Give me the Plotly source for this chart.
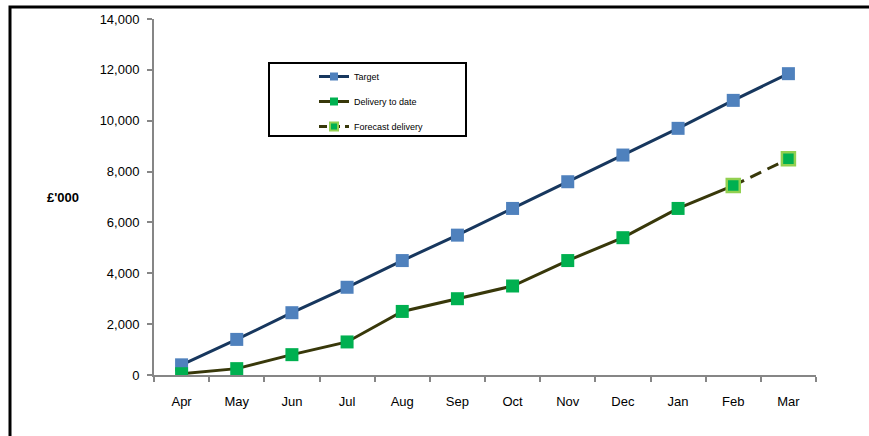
import plotly.graph_objects as go

months = ["Apr", "May", "Jun", "Jul", "Aug", "Sep", "Oct", "Nov", "Dec", "Jan", "Feb", "Mar"]
target = [400, 1400, 2450, 3450, 4500, 5500, 6550, 7600, 8650, 9700, 10800, 11850]
delivery_months = months[:11]
delivery = [50, 250, 800, 1300, 2500, 3000, 3500, 4500, 5400, 6550, 7450]
forecast_months = ["Feb", "Mar"]
forecast = [7450, 8500]
y_ticks = [0, 2000, 4000, 6000, 8000, 10000, 12000, 14000]

NAVY = "#17375E"
BLUE = "#4F81BD"
OLIVE = "#38380A"
GREEN = "#00B050"
LIME = "#92D050"
GREY = "#868686"
FONT = "Liberation Sans"

fig = go.Figure()

fig.add_trace(go.Scatter(
    x=months, y=target, mode="lines+markers", showlegend=False,
    line=dict(color=NAVY, width=3),
    marker=dict(symbol="square", size=13, color=BLUE),
))
fig.add_trace(go.Scatter(
    x=delivery_months, y=delivery, mode="lines+markers", showlegend=False,
    line=dict(color=OLIVE, width=3),
    marker=dict(symbol="square", size=13, color=GREEN),
))
fig.add_trace(go.Scatter(
    x=forecast_months, y=forecast, mode="lines+markers", showlegend=False,
    line=dict(color=OLIVE, width=3, dash="12px,7px"),
    marker=dict(symbol="square", size=13, color=GREEN, line=dict(color=LIME, width=2.5)),
))

# legend entries with smaller markers
legend_items = [
    ("Target", NAVY, "solid", BLUE, BLUE),
    ("Delivery to date", OLIVE, "solid", GREEN, GREEN),
    ("Forecast delivery", OLIVE, "8px,5px", GREEN, LIME),
]
for i, (name, lc, dash, mc, mlc) in enumerate(legend_items):
    fig.add_trace(go.Scatter(
        x=[None], y=[None], mode="lines+markers", name=name, legendgroup=str(i),
        line=dict(color=lc, width=3, dash=dash),
        marker=dict(symbol="square", size=8, color=mc, line=dict(color=mlc, width=2 if mlc != mc else 0)),
    ))

L, R, T, B = 154, 53, 19, 61
W, H = 869, 436
pw, ph = W - L - R, H - T - B

def px(x):
    return (x - L) / pw

def py(y):
    return (H - B - y) / ph

fig.update_layout(
    width=W, height=H,
    margin=dict(l=L, r=R, t=T, b=B),
    paper_bgcolor="white", plot_bgcolor="white",
    font=dict(family=FONT, size=13, color="black"),
    xaxis=dict(
        type="category", categoryorder="array", categoryarray=months,
        range=[-0.5, 11.5], tickson="boundaries",
        showline=True, linecolor=GREY, linewidth=2,
        ticks="outside", ticklen=5, tickcolor=GREY, tickwidth=2,
        showgrid=False, ticklabelstandoff=13,
    ),
    yaxis=dict(
        range=[0, 14000], tickvals=y_ticks, tickformat=",",
        showline=True, linecolor=GREY, linewidth=2,
        ticks="outside", ticklen=5, tickcolor=GREY, tickwidth=2,
        showgrid=False, zeroline=False, ticklabelstandoff=5,
    ),
    legend=dict(
        x=px(314), y=py(62), xanchor="left", yanchor="top",
        bgcolor="rgba(0,0,0,0)", borderwidth=0,
        font=dict(family=FONT, size=9, color="black"),
        tracegroupgap=6,
    ),
    showlegend=True,
    shapes=[
        # legend frame
        dict(type="rect", xref="paper", yref="paper",
             x0=px(269), x1=px(466), y0=py(136), y1=py(63),
             line=dict(color="black", width=2), fillcolor="rgba(0,0,0,0)", layer="below"),
        # chart frame
        dict(type="rect", xref="paper", yref="paper",
             x0=px(10), x1=px(880), y0=py(446), y1=py(7),
             line=dict(color="black", width=3), fillcolor="rgba(0,0,0,0)"),
    ],
    annotations=[
        dict(text="<b>£'000</b>", xref="paper", yref="paper",
             x=px(63), y=py(197), xanchor="center", yanchor="middle",
             showarrow=False, font=dict(family=FONT, size=13, color="black")),
    ],
)

fig.write_html("out.html")
